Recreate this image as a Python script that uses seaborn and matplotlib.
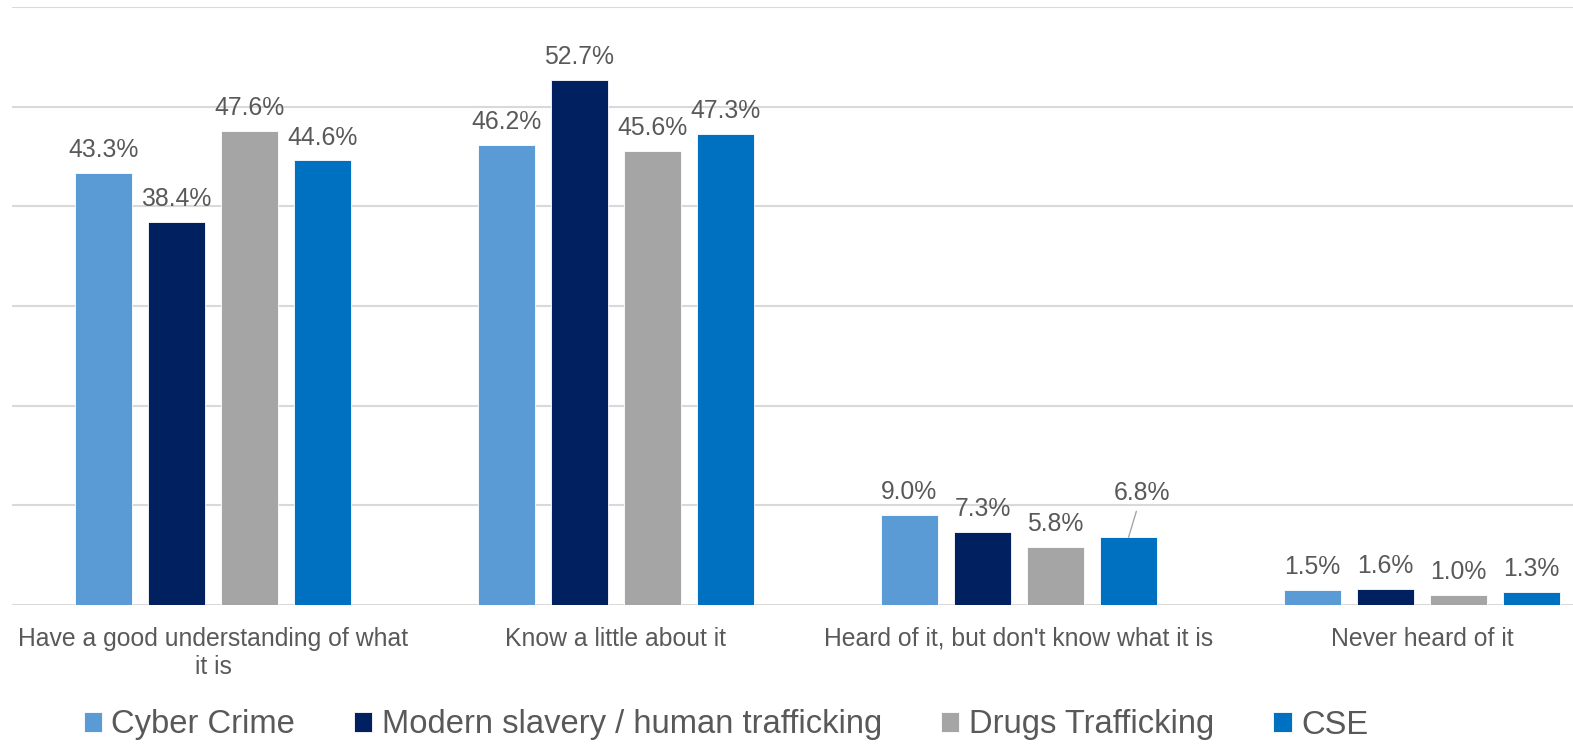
import pandas as pd
import seaborn as sns
import matplotlib.pyplot as plt

# chart data
categories = ["Have a good understanding of what\nit is", "Know a little about it",
              "Heard of it, but don't know what it is", "Never heard of it"]
series = ["Cyber Crime", "Modern slavery / human trafficking", "Drugs Trafficking", "CSE"]
cyber_crime = [43.3, 46.2, 9.0, 1.5]
modern_slavery = [38.4, 52.7, 7.3, 1.6]
drugs_trafficking = [47.6, 45.6, 5.8, 1.0]
cse = [44.6, 47.3, 6.8, 1.3]
colors = ["#5B9BD5", "#002060", "#A5A5A5", "#0070C0"]

values = [cyber_crime, modern_slavery, drugs_trafficking, cse]
rows = []
for s, vals in zip(series, values):
    for c, v in zip(categories, vals):
        rows.append({"category": c, "series": s, "value": v})
df = pd.DataFrame(rows)

sns.set_style("white")
plt.rcParams['font.family'] = ['Liberation Sans', 'DejaVu Sans']
text_col = "#595959"

fig = plt.figure(figsize=(15.73, 7.44), dpi=100)
ax = fig.add_axes([11.5 / 1573, 1 - 605 / 744, 1612 / 1573, (605 - 7) / 744])

sns.barplot(data=df, x="category", y="value", hue="series", order=categories,
            hue_order=series, palette=colors, saturation=1, width=0.725, gap=0.22,
            edgecolor="white", linewidth=0.6, ax=ax)

ax.set_ylim(0, 60)
ax.set_xlim(-0.5, 3.5)
ax.set_yticks(range(0, 61, 10))
ax.yaxis.grid(True, color="#D9D9D9", linewidth=1.5)
ax.set_axisbelow(True)
for sp in ax.spines.values():
    sp.set_visible(False)
ax.set_yticklabels([])
ax.tick_params(axis="y", length=0)
ax.tick_params(axis="x", length=0, pad=15.5, labelsize=17.8, labelcolor=text_col)
for lbl in ax.get_xticklabels():
    lbl.set_linespacing(1.25)
ax.set_xlabel("")
ax.set_ylabel("")

# value labels
for si, cont in enumerate(ax.containers):
    for ci, bar in enumerate(cont):
        v = values[si][ci]
        xc = bar.get_x() + bar.get_width() / 2
        top = bar.get_height()
        if series[si] == "CSE" and ci == 2:
            ax.annotate(f"{v:.1f}%", (xc, top), xytext=(9.5, 26.5), textcoords="offset points",
                        ha="center", va="baseline", fontsize=17.8, color=text_col,
                        arrowprops=dict(arrowstyle="-", color="#A6A6A6", lw=1,
                                        shrinkA=2, shrinkB=0))
        else:
            ax.annotate(f"{v:.1f}%", (xc, top), xytext=(0, 11.5), textcoords="offset points",
                        ha="center", va="baseline", fontsize=17.8, color=text_col)

handles, labels = ax.get_legend_handles_labels()
ax.get_legend().remove()
leg = fig.legend(handles, labels, loc="center", bbox_to_anchor=(726 / 1573, 1 - 725 / 744),
                 ncol=4, frameon=False, fontsize=23.6, handlelength=0.55, handleheight=0.55,
                 handletextpad=0.3, columnspacing=1.8)
for t in leg.get_texts():
    t.set_color(text_col)

plt.savefig("out.png", dpi=100)
